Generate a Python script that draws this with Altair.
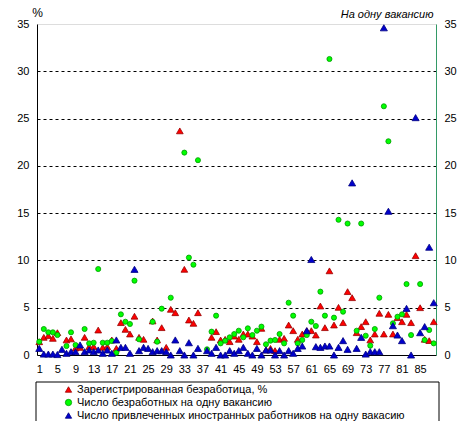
import altair as alt
import pandas as pd

regions = list(range(1, 89))

# Зарегистрированная безработица, % (левая ось)
red = [1.4, 1.87, 2.04, 1.76, 2.36, None, 1.59, 1.7, 0.74, 0.8,
       1.87, 0.88, 0.9, 2.64, 0.81, 0.88, 1.59, 0.7, 3.42, 2.71,
       2.22, 4.1, 1.87, 1.66, None, 3.6, 1.59, 2.89, 0.81, 4.83,
       4.47, 23.7, 9.06, 3.7, 3.35, 4.47, None, None, 1.87, 2.47,
       1.59, 1.66, 1.41, 2.0, 1.66, 2.22, 2.22, 2.0, 1.41, 2.82,
       0.53, 0.7, 0.46, 1.66, 1.76, 3.17, 2.57, 1.66, 2.22, 2.57,
       2.57, 2.11, 5.18, 2.89, 8.9, 3.17, 5.04, 3.42, 6.7, 6.06,
       2.36, 3.0, 3.52, 1.59, 2.22, 4.41, 2.22, 4.3, 2.22, 3.95,
       3.52, 4.3, 3.42, 10.5, 5.0, 1.66, 1.52, 3.52]

# Число безработных на одну вакансию (правая ось)
green = [1.41, 2.75, 2.4, 2.4, 2.11, None, 0.95, 2.4, 1.06, None,
         2.75, 1.23, 1.3, 9.09, 1.3, 1.3, 1.48, 0.25, 4.3, 3.52,
         3.28, 7.86, 1.66, None, None, 3.52, 1.41, 4.9, None, 6.06,
         None, None, 21.4, 10.3, 9.55, 20.6, None, 0.6, 2.47, 4.16,
         1.23, 1.51, 1.87, 2.22, 2.57, 1.87, 2.82, 2.11, 2.57, 3.0,
         1.13, 1.52, 1.59, 2.22, 1.23, 5.53, 4.16, 1.23, 1.59, 2.11,
         3.52, 3.07, 6.7, 4.16, 31.3, 3.95, 14.3, 4.58, 13.9, None,
         2.57, 13.9, 2.04, 0.99, 2.75, 6.06, 26.3, 22.6, 3.35, 4.05,
         4.3, 7.5, 2.11, None, 7.5, 1.59, 2.64, 1.23]

# Число привлеченных иностранных работников на одну вакансию (правая ось)
blue = [0.7, 0.1, 0.1, 0.1, 0.05, 0.6, 0.18, 0.35, 0.35, 1.06,
        0.35, 0.53, 0.35, 0.53, 0.18, 0.53, 0.18, 1.59, 0.81, 0.81,
        0.18, 9.06, 0.46, 0.81, 0.7, 0.35, 0.46, 0.46, 0.35, 0.0,
        1.59, 0.46, 0.0, 1.3, 0.0, 0.7, None, 0.46, 0.18, 0.81,
        0.0, 0.0, 0.46, 0.18, 0.46, 0.81, 0.18, 0.0, 0.7, 0.0,
        0.53, 0.53, 0.0, 0.46, 0.0, 0.46, 0.18, 0.7, 0.95, 2.57,
        10.1, 0.88, 0.81, 0.95, 0.95, 0.0, 0.81, 1.52, 0.6, 18.2,
        0.7, 1.87, 0.1, 0.35, 0.35, 0.35, 34.6, 15.2, 3.1, 2.11,
        1.52, 4.93, 0.0, 25.1, 2.36, 3.0, 11.4, 5.53]

tick_x = list(range(1, 89, 4))
tick_y = list(range(0, 36, 5))

S1 = "Зарегистрированная безработица, %"
S2 = "Число безработных на одну вакансию"
S3 = "Число привлеченных иностранных работников на одну вакасию"
series = [S1, S2, S3]
fills = ["#FF0000", "#00FF00", "#0000CC"]
strokes = ["#990000", "#009900", "#000080"]
shapes = ["triangle-up", "circle", "triangle-up"]

def frame(name, vals):
    return pd.DataFrame([{"region": i, "series": name, "value": v}
                         for i, v in zip(regions, vals) if v is not None])

FONT = "Liberation Sans"
GREEN_AX = "#339966"

x_enc = alt.X("region:Q",
              scale=alt.Scale(domain=[0.5, 88.5], nice=False, zero=False),
              axis=alt.Axis(values=tick_x, grid=False, ticks=False, domainColor="black",
                            labelPadding=8, labelFlush=False, title=None,
                            labelFont=FONT, labelFontSize=11, labelColor="black"))

legend = alt.Legend(title=None, orient="none", legendX=26, legendY=360,
                    direction="vertical", labelFont=FONT, labelFontSize=11,
                    labelColor="black", symbolSize=40, rowPadding=1, labelOffset=3,
                    symbolStrokeWidth=0.8, padding=0, labelLimit=400)

def enc_common():
    return dict(
        fill=alt.Fill("series:N", scale=alt.Scale(domain=series, range=fills), legend=legend),
        stroke=alt.Stroke("series:N", scale=alt.Scale(domain=series, range=strokes), legend=legend),
        shape=alt.Shape("series:N", scale=alt.Scale(domain=series, range=shapes), legend=legend),
    )

yscale = alt.Scale(domain=[0, 35], nice=False, zero=True)

left_axis = alt.Axis(values=tick_y, orient="left", ticks=False, domainColor="black",
                     labelPadding=8, labelFont=FONT, labelFontSize=11, labelColor="black",
                     grid=True, gridColor="black", gridDash=[3, 3], gridWidth=1,
                     gridOpacity={"condition": {"test": "datum.value == 35 || datum.value == 0", "value": 0}, "value": 1},
                     title="%", titleAngle=0, titleX=0, titleY=-5, titleAlign="center",
                     titleBaseline="bottom", titleFont=FONT, titleFontSize=12,
                     titleFontWeight="normal", titleColor="black")

right_axis = alt.Axis(values=tick_y, orient="right", ticks=False, domainColor=GREEN_AX,
                      labelPadding=8, labelFont=FONT, labelFontSize=11, labelColor="black",
                      grid=False,
                      title="На одну вакансию", titleAngle=0, titleX=-3, titleY=-5,
                      titleAlign="right", titleBaseline="bottom", titleFont=FONT,
                      titleFontSize=11, titleFontStyle="italic", titleFontWeight="normal",
                      titleColor="black")

red_layer = alt.Chart(frame(S1, red)).mark_point(filled=True, opacity=1, size=45, strokeWidth=0.8).encode(
    x=x_enc, y=alt.Y("value:Q", scale=yscale, axis=left_axis), **enc_common())

green_layer = alt.Chart(frame(S2, green)).mark_point(filled=True, opacity=1, size=26, strokeWidth=0.8).encode(
    x=x_enc, y=alt.Y("value:Q", scale=yscale, axis=right_axis), **enc_common())

blue_layer = alt.Chart(frame(S3, blue)).mark_point(filled=True, opacity=1, size=50, strokeWidth=0.8).encode(
    x=x_enc, y=alt.Y("value:Q", scale=yscale, axis=None), **enc_common())

box = alt.Chart(pd.DataFrame({"k": [0]})).mark_rect(filled=False, stroke="black", strokeWidth=1).encode(
    x=alt.value(-1), x2=alt.value(402), y=alt.value(358), y2=alt.value(402))

chart = alt.layer(box, red_layer, green_layer, blue_layer).resolve_scale(
    y="independent"
).properties(
    width=399, height=331,
    autosize=alt.AutoSizeParams(type="none"),
    padding={"left": 29, "top": 16, "right": 29, "bottom": 66},
).configure_view(
    stroke=GREEN_AX, strokeWidth=1
).configure(background="white")

chart.save("out.html", embed_options={"renderer": "svg", "actions": False})
